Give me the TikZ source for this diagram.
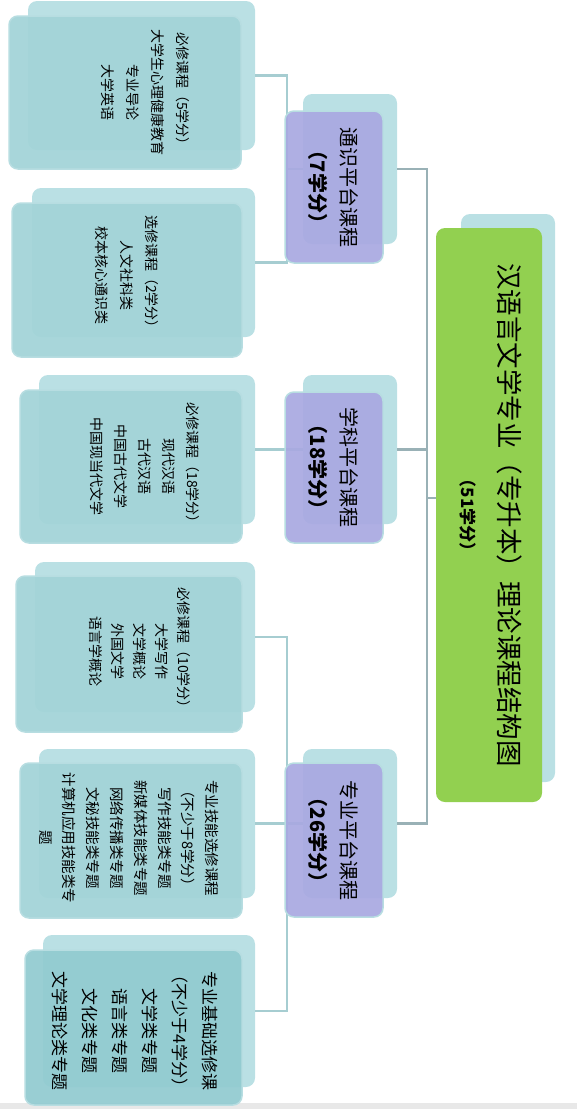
\documentclass[tikz,border=0pt]{standalone}
\usepackage{fontspec}
\setmainfont{Noto Sans CJK SC}
\definecolor{backteal}{HTML}{BAE0E4}
\definecolor{frontteal}{HTML}{A3D4D8}
\definecolor{frontdark}{HTML}{93CBD1}
\definecolor{edgeteal}{HTML}{B7DDE1}
\definecolor{purplebox}{HTML}{A9A9E1}
\definecolor{greenbox}{HTML}{92D050}
\definecolor{connleft}{HTML}{A6CDD1}
\definecolor{connright}{HTML}{99B1B6}
\definecolor{stripgray}{HTML}{E8E8E8}
\begin{document}
\begin{tikzpicture}[x=1pt,y=-1pt,
  boxbase/.style={rectangle, rounded corners=9pt, inner sep=0pt, outer sep=0pt},
  backbox/.style={boxbase, fill=backteal},
  frontbox/.style={boxbase, fill=frontteal, fill opacity=0.95, draw=edgeteal, line width=1.5pt},
  purplefront/.style={boxbase, fill=purplebox, fill opacity=0.93, draw=edgeteal, line width=1.5pt},
  greenfront/.style={boxbase, fill=greenbox},
  leaftext/.style={rotate=-90, align=center, inner sep=0pt, text=black},
  connl/.style={draw=connleft, line width=2.5pt},
  connr/.style={draw=connright, line width=2.5pt}]
\useasboundingbox (0,0) rectangle (577,1109);
\fill[stripgray] (0,1103) rectangle (577,1109);

% back boxes
\node[backbox, minimum width=227, minimum height=149] (b1) at (141.5,75.5) {};
\node[backbox, minimum width=223, minimum height=149] (b2) at (143.5,262.5) {};
\node[backbox, minimum width=216, minimum height=149] (b3) at (147,449.5) {};
\node[backbox, minimum width=220, minimum height=150] (b4) at (145,637) {};
\node[backbox, minimum width=216, minimum height=149] (b5) at (147,823.5) {};
\node[backbox, minimum width=212, minimum height=152] (b6) at (149,1011) {};
\node[backbox, minimum width=94, minimum height=150] (pb1) at (350,169) {};
\node[backbox, minimum width=94, minimum height=149] (pb2) at (350,449.5) {};
\node[backbox, minimum width=94, minimum height=149] (pb3) at (350,823.5) {};
\node[backbox, minimum width=94, minimum height=568] (gb) at (508,498) {};

% connectors
\coordinate (L1) at (287,169);
\coordinate (L3) at (287,823.5);
\coordinate (R) at (427,498);
\coordinate (R2) at (427,449.5);
\draw[connl] (b1.east) -| (L1) |- (b2.east);
\draw[connl] (L1) -- (pb1.west);
\draw[connl] (b3.east) -- (pb2.west);
\draw[connl] (b4.east) -| (L3) |- (b6.east);
\draw[connl] (b5.east) -- (pb3.west);
\draw[connr] (pb1.east) -| (R);
\draw[connr] (pb3.east) -| (R);
\draw[connr] (pb2.east) -- (R2);
\draw[connr] (R) -- (gb.west);

% front boxes
\node[frontbox, minimum width=232, minimum height=153] (f1) at (125,92.5) {};
\node[frontbox, minimum width=230, minimum height=154] (f2) at (127,280) {};
\node[frontbox, minimum width=222, minimum height=153] (f3) at (131,466.5) {};
\node[frontbox, minimum width=226, minimum height=156] (f4) at (129,654) {};
\node[frontbox, minimum width=222, minimum height=155] (f5) at (131,840.5) {};
\node[frontbox, fill=frontdark, minimum width=217, minimum height=155] (f6) at (133.5,1027.5) {};
\node[purplefront, minimum width=98, minimum height=152] (pf1) at (334,187) {};
\node[purplefront, minimum width=98, minimum height=151] (pf2) at (334,467.5) {};
\node[purplefront, minimum width=98, minimum height=154] (pf3) at (334,840) {};
\node[greenfront, minimum width=106, minimum height=574] (gf) at (489,515) {};

% texts
\node[leaftext, font=\fontsize{14}{25}\selectfont] (t1) at (145,92)
  {必修课程（5学分）\\大学生心理健康教育\\专业导论\\大学英语};
\node[leaftext, font=\fontsize{14}{25}\selectfont] (t2) at (127,275)
  {选修课程（2学分）\\人文社科类\\校本核心通识类};
\node[leaftext, font=\fontsize{14}{24}\selectfont] (t3) at (145,466)
  {必修课程（18学分）\\现代汉语\\古代汉语\\中国古代文学\\中国现当代文学};
\node[leaftext, font=\fontsize{14}{22}\selectfont] (t4) at (140,651)
  {必修课程（10学分）\\大学写作\\文学概论\\外国文学\\语言学概论};
\node[leaftext, font=\fontsize{14.5}{23.8}\selectfont] (t5) at (129,838)
  {专业技能选修课程\\（不少于8学分）\\写作技能类专题\\新媒体技能类专题\\网络传播类专题\\文秘技能类专题\\计算机应用技能类专\\题};
\node[leaftext, font=\fontsize{17}{30}\selectfont] (t6) at (135,1031)
  {专业基础选修课\\（不少于4学分）\\文学类专题\\语言类专题\\文化类专题\\文学理论类专题};

\node[leaftext, font=\fontsize{20}{31}\selectfont] (pt1) at (333,187)
  {通识平台课程\\{\bfseries（7学分）}};
\node[leaftext, font=\fontsize{20}{31}\selectfont] (pt2) at (333,467)
  {学科平台课程\\{\bfseries（18学分）}};
\node[leaftext, font=\fontsize{20}{31}\selectfont] (pt3) at (333,840)
  {专业平台课程\\{\bfseries（26学分）}};

\node[leaftext, font=\fontsize{26.5}{30}\selectfont] (gt1) at (510,515)
  {汉语言文学专业（专升本）理论课程结构图};
\node[leaftext, font=\fontsize{17}{20}\selectfont\bfseries] (gt2) at (468,515)
  {（51学分）};
\end{tikzpicture}
\end{document}
